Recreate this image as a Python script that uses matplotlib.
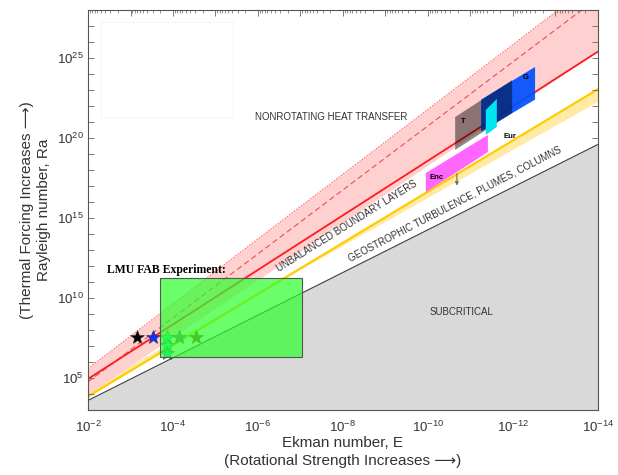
import matplotlib
matplotlib.use("Agg")
import matplotlib.pyplot as plt
from matplotlib.patches import Rectangle
from matplotlib.ticker import LogLocator, FuncFormatter, NullFormatter
import numpy as np

plt.rcParams['font.family'] = ['Liberation Sans', 'DejaVu Sans']
plt.rcParams['mathtext.default'] = 'regular'

# regime boundaries, Ra values at the two plot edges E = 1e-2 and E = 1e-14
E_edge = [1e-2, 1e-14]
Ra_onset = [10**3.6, 10**19.6]
Ra_red = [10**4.94, 10**25.4]
Ra_pink_lo = [10**3.94, 10**25.4]
Ra_dotted = [10**5.6, 10**29.9]
Ra_dashed = [10**4.76, 10**28.76]
Ra_gold = [10**3.85, 10**23.05]
Ra_yellow_lo = [10**4.25, 10**22.25]

# planetary boxes (corner E, corner Ra)
G_E = [10**-11.25, 10**-12.52, 10**-12.52, 10**-11.25]
G_Ra = [10**20.4, 10**22.4, 10**24.44, 10**22.4]
T_E = [10**-10.64, 10**-11.98, 10**-11.98, 10**-10.64]
T_Ra = [10**19.25, 10**21.56, 10**23.62, 10**21.31]
Eur_E = [10**-11.36, 10**-11.62, 10**-11.62, 10**-11.36]
Eur_Ra = [10**20.19, 10**20.69, 10**22.44, 10**21.75]
Enc_E = [10**-9.95, 10**-11.41, 10**-11.41, 10**-9.95]
Enc_Ra = [10**16.62, 10**19.12, 10**20.19, 10**17.81]

# LMU FAB experiment
lmu_E = [2e-4, 9e-8]
lmu_Ra = [2e6, 1.8e11]
star_E = [7e-4, 3e-4, 1.4e-4, 7.2e-5, 2.9e-5, 1.4e-4, 1.4e-4]
star_Ra = [3.6e7, 3.6e7, 3.6e7, 3.6e7, 3.6e7, 1.15e7, 3.6e6]
star_colors = ['black', '#1030ff', '#00ffb0', '#707070', '#804000', '#00ffb0', '#00d0d0']

fig = plt.figure(figsize=(6.18, 4.75), dpi=100)
ax = fig.add_axes([0.1424, 0.1368, 0.8252, 0.8422])
ax.set_xscale('log')
ax.set_yscale('log')
ax.set_xlim(1e-2, 1e-14)
ax.set_ylim(1e3, 1e28)

# yellow band + subcritical region
ax.fill(E_edge + E_edge[::-1], Ra_gold + Ra_yellow_lo[::-1], color='#ffeaa6', lw=0, zorder=1)
ax.plot(E_edge, Ra_gold, color='#ffcc00', lw=1.6, zorder=1.5)
ax.fill(E_edge + E_edge[::-1], Ra_onset + [1e0, 1e0], color='#d9d9d9', lw=0, zorder=2)
ax.plot(E_edge, Ra_onset, color='#404040', lw=0.8, zorder=2.5)

# pink band
ax.fill(E_edge + E_edge[::-1], Ra_dotted + Ra_pink_lo[::-1], color='#ffd0d0', lw=0, zorder=1)
ax.plot(E_edge, Ra_dotted, color='#ff6060', lw=0.8, ls=':', zorder=1.6)
ax.plot(E_edge, Ra_dashed, color='#e85050', lw=0.8, ls=(0, (5, 3)), zorder=1.6)
ax.plot(E_edge, Ra_red, color='#ff1a1a', lw=1.3, zorder=1.7)

# bodies
ax.fill(G_E, G_Ra, color='#0050ff', alpha=0.92, lw=0, zorder=3)
ax.fill(T_E, T_Ra, color='black', alpha=0.45, lw=0, zorder=3.2)
ax.fill(Eur_E, Eur_Ra, color='#00e5f0', lw=0, zorder=3.4)
ax.fill(Enc_E, Enc_Ra, color='#ff66ff', lw=0, zorder=3.4)
ax.annotate('', xy=(10**-10.68, 10**16.85), xytext=(10**-10.68, 10**17.95),
            arrowprops=dict(arrowstyle='-|>', color='#707070', lw=0.8, mutation_scale=5), zorder=4)
ax.text(10**-10.82, 10**21.0, 'T', fontsize=5.5, fontweight='bold', ha='center', va='center', zorder=5)
ax.text(10**-12.3, 10**23.75, 'G', fontsize=5.5, fontweight='bold', ha='center', va='center', zorder=5)
ax.text(10**-11.92, 10**20.1, 'Eur', fontsize=5.5, fontweight='bold', ha='center', va='center', zorder=5)
ax.text(10**-10.2, 10**17.5, 'Enc', fontsize=5.5, fontweight='bold', ha='center', va='center', zorder=5)

# experiment
for e, r, c in zip(star_E, star_Ra, star_colors):
    ax.plot(e, r, marker='*', ms=10, color=c, mec='#333333', mew=0.4, zorder=4)
box_E = [lmu_E[0], lmu_E[1], lmu_E[1], lmu_E[0]]
box_Ra = [lmu_Ra[0], lmu_Ra[0], lmu_Ra[1], lmu_Ra[1]]
ax.fill(box_E, box_Ra, facecolor='#30ff30', alpha=0.72, edgecolor='none', zorder=4.5)
ax.fill(box_E, box_Ra, facecolor='none', edgecolor='#555555', lw=0.8, zorder=4.6)
ax.text(10**-2.45, 10**11.75, 'LMU FAB Experiment:', family='Liberation Serif', fontweight='bold',
        fontsize=8.5, ha='left', va='center', zorder=5)

# regime labels
lab = dict(fontsize=7, color='#333333', ha='center', va='center', rotation_mode='anchor', zorder=5)
ax.text(10**-7.72, 10**21.3, 'NONROTATING HEAT TRANSFER', **lab)
ax.text(10**-8.09, 10**14.5, 'UNBALANCED BOUNDARY LAYERS', rotation=32, **lab)
ax.text(10**-10.64, 10**15.88, 'GEOSTROPHIC TURBULENCE, PLUMES, COLUMNS', rotation=27.5, **lab)
ax.text(10**-10.78, 10**9.1, 'SUBCRITICAL', **lab)

# faint empty legend frame
ax.add_patch(Rectangle((0.0255, 0.7325), 0.2585, 0.2385, transform=ax.transAxes,
                       fill=False, edgecolor='#f6f6f6', lw=0.8, zorder=0.5))

# ticks
ax.xaxis.set_major_locator(LogLocator(base=10, subs=(1.0,), numticks=30))
ax.xaxis.set_minor_locator(LogLocator(base=10, subs=np.arange(2, 10), numticks=30))
ax.yaxis.set_major_locator(LogLocator(base=10, subs=(1.0,), numticks=40))
ax.yaxis.set_minor_locator(LogLocator(base=10, subs=(), numticks=40))

def xfmt(v, pos):
    k = int(round(np.log10(v)))
    return r'$10^{%d}$' % k if k % 2 == 0 else ''

def yfmt(v, pos):
    k = int(round(np.log10(v)))
    return r'$10^{%d}$' % k if k % 5 == 0 else ''

ax.xaxis.set_major_formatter(FuncFormatter(xfmt))
ax.yaxis.set_major_formatter(FuncFormatter(yfmt))
ax.xaxis.set_minor_formatter(NullFormatter())
ax.tick_params(which='both', direction='in', top=True, right=True, color='#666666',
               labelcolor='#333333', labelsize=9.5)
ax.tick_params(which='major', length=4, width=0.6)
ax.tick_params(which='minor', length=2, width=0.5)
ax.tick_params(axis='x', pad=7)
ax.tick_params(axis='y', pad=3)
for s in ax.spines.values():
    s.set_color('#555555')
    s.set_linewidth(0.8)

ax.set_xlabel('Ekman number, E\n(Rotational Strength Increases \u27f6)', fontsize=11, color='#333333',
              linespacing=1.35, labelpad=1)
ax.set_ylabel('(Thermal Forcing Increases \u27f6)\nRayleigh number, Ra', fontsize=11, color='#333333',
              linespacing=1.3, labelpad=4)

fig.savefig('out.png', dpi=100)
